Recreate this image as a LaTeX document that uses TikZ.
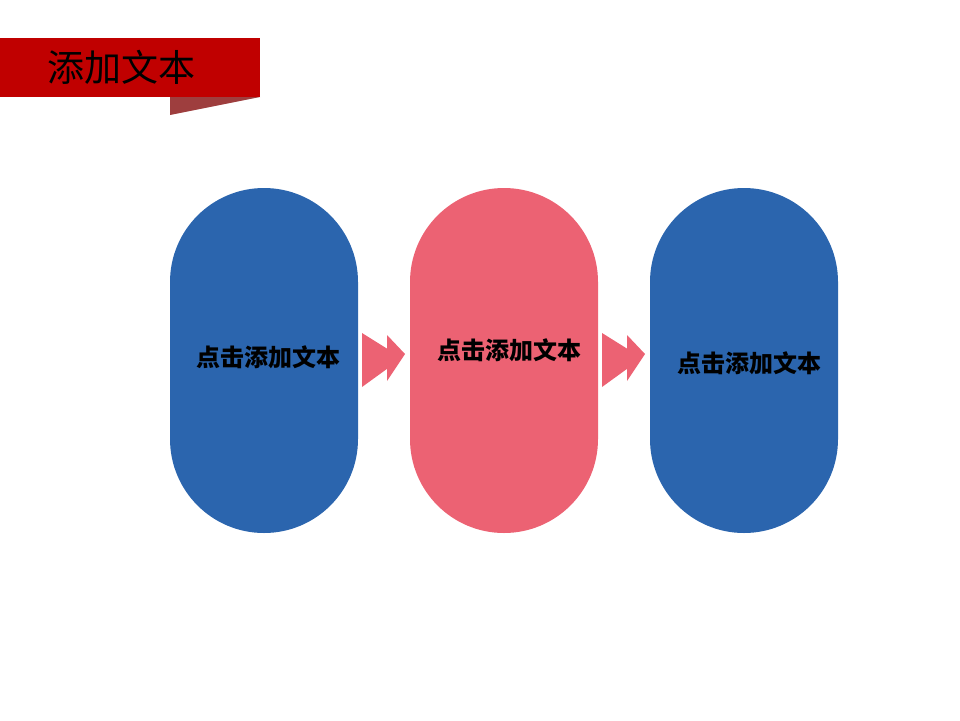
\documentclass[tikz,border=0pt]{standalone}
\usepackage{fontspec}
\newfontfamily\cjk{Noto Sans CJK SC}
\definecolor{capblue}{HTML}{2B65AE}
\definecolor{cappink}{HTML}{EC6273}
\definecolor{bannerred}{HTML}{C00000}
\definecolor{folddark}{HTML}{9E3E3E}
\tikzset{
  capsule/.style={minimum width=188pt, minimum height=345pt, rounded corners=94pt, inner sep=0pt},
  captext/.style={font=\cjk\bfseries\fontsize{24}{24}\selectfont, text=black, inner sep=0pt}
}
\begin{document}
\begin{tikzpicture}[x=1pt,y=-1pt]
    \useasboundingbox (0,0) rectangle (960,720);
%    \draw[gray!30, step=40] (0,0) grid (960,720);

\fill[bannerred] (0,38) rectangle (260,97);
\fill[folddark] (170,97) -- (260,97) -- (170,115) -- cycle;
\node[font=\cjk\fontsize{37}{37}\selectfont, inner sep=0pt] (title) at (121,67) {添加文本};

\node[capsule, fill=capblue] (cap1) at (264,360.5) {};
\node[capsule, fill=cappink] (cap2) at (504,360.5) {};
\node[capsule, fill=capblue] (cap3) at (744,360.5) {};

\foreach \ax in {362,602} {
  \fill[cappink] (\ax,333) -- (\ax+40,358) -- (\ax,387) -- cycle;
  \fill[cappink] (\ax+25,335) -- (\ax+43,354) -- (\ax+25,381) -- cycle;
}

\node[captext] (txt1) at (268,357) {点击添加文本};
\node[captext] (txt2) at (509,350) {点击添加文本};
\node[captext] (txt3) at (749,363) {点击添加文本};

\end{tikzpicture}
\end{document}
